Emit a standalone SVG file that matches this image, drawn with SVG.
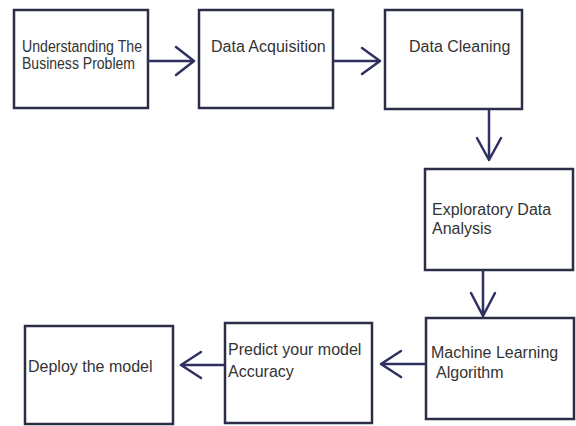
<svg xmlns="http://www.w3.org/2000/svg" width="576" height="426" viewBox="0 0 576 426">
<style>
.box{fill:#fff;stroke:#2c2e48;stroke-width:2.5}
.t{font-family:"Liberation Sans",Arial,sans-serif;fill:#333;font-size:16px}
.c{fill:none;stroke:#2f3260;stroke-width:2.5;stroke-linecap:round;stroke-linejoin:round}
</style>
<rect width="576" height="426" fill="#fff"/>
<g id="n1"><rect class="box" x="14" y="10" width="134" height="98"/><text class="t" x="22" y="52" font-size="14" textLength="120" lengthAdjust="spacingAndGlyphs">Understanding The</text><text class="t" x="22" y="69" font-size="14" textLength="113" lengthAdjust="spacingAndGlyphs">Business Problem</text></g>
<g id="n2"><rect class="box" x="199" y="10" width="134" height="98"/><text class="t" x="211" y="52" font-size="15">Data Acquisition</text></g>
<g id="n3"><rect class="box" x="385" y="10" width="137" height="99"/><text class="t" x="409" y="52" font-size="15">Data Cleaning</text></g>
<g id="n4"><rect class="box" x="425" y="169" width="148" height="101"/><text class="t" x="432" y="215" font-size="16.5">Exploratory Data</text><text class="t" x="432" y="234" font-size="16.5">Analysis</text></g>
<g id="n5"><rect class="box" x="426" y="318" width="148" height="101"/><text class="t" x="431" y="358">Machine Learning</text><text class="t" x="436" y="378">Algorithm</text></g>
<g id="n6"><rect class="box" x="225" y="323" width="147" height="100"/><text class="t" x="228" y="355" font-size="16.3">Predict your model</text><text class="t" x="228" y="377" font-size="16.3">Accuracy</text></g>
<g id="n7"><rect class="box" x="25" y="326" width="148" height="98"/><text class="t" x="28" y="372">Deploy the model</text></g>
<g id="connectors">
<path class="c" d="M148 61H194M176 47L194 61L176 75"/>
<path class="c" d="M334 61H380M362 48L380 61L362 74"/>
<path class="c" d="M489 110V160M477 138L489 160L501 138"/>
<path class="c" d="M483 271V316M471 293L483 316L495 293"/>
<path class="c" d="M425 364H381M401 351L381 364L401 377"/>
<path class="c" d="M224 365H181M201 352L181 365L201 378"/>
</g>
</svg>
